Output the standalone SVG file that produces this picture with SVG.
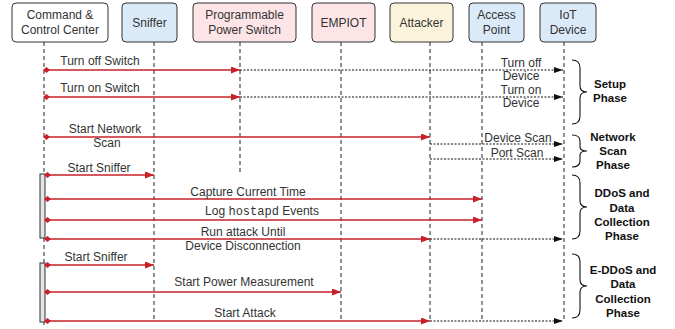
<svg xmlns="http://www.w3.org/2000/svg" width="675" height="329" viewBox="0 0 675 329">
<defs>
<marker id="ra" markerUnits="userSpaceOnUse" markerWidth="10" markerHeight="8" refX="9" refY="3.5" orient="auto"><path d="M0,0 L9,3.5 L0,7 z" fill="#c8202a"/></marker>
<marker id="rd" markerUnits="userSpaceOnUse" markerWidth="8" markerHeight="7" refX="1" refY="3" orient="auto"><path d="M0,3 L3.5,0 L7,3 L3.5,6 z" fill="#c8202a"/></marker>
<marker id="ba" markerUnits="userSpaceOnUse" markerWidth="10" markerHeight="8" refX="9" refY="3" orient="auto"><path d="M0,0 L9,3 L0,6 z" fill="#111"/></marker>
</defs>
<style>
.box{stroke:#333;stroke-width:1}
.t{font-family:"Liberation Sans",Arial,sans-serif;font-size:12px;fill:#333;text-anchor:middle}
.m{font-family:"Liberation Mono","Courier New",monospace}
.ph{font-family:"Liberation Sans",Arial,sans-serif;font-size:11.5px;font-weight:bold;fill:#111;text-anchor:middle}
.life{stroke:#222;stroke-width:1;stroke-dasharray:4,3;fill:none}
.red{stroke:#c8202a;stroke-width:1.5;fill:none;marker-end:url(#ra);marker-start:url(#rd)}
.dot{stroke:#111;stroke-width:1;stroke-dasharray:2,1.5;fill:none;marker-end:url(#ba)}
.br{stroke:#111;stroke-width:1.1;fill:none}
.act{fill:#e4e4e4;stroke:#333;stroke-width:1}
</style>
<g id="lifelines">
<line class="life" x1="44" y1="42" x2="44" y2="325"/>
<line class="life" x1="154" y1="42" x2="154" y2="322"/>
<line class="life" x1="240" y1="42" x2="240" y2="175"/>
<line class="life" x1="341" y1="42" x2="341" y2="320"/>
<line class="life" x1="430" y1="42" x2="430" y2="322"/>
<line class="life" x1="482" y1="42" x2="482" y2="320"/>
<line class="life" x1="564" y1="42" x2="564" y2="322"/>
</g>
<g id="ccc"><rect class="box" x="12" y="3" width="96" height="39" rx="4" fill="#ffffff"/><text class="t" x="60" y="19">Command &amp;</text><text class="t" x="60" y="34">Control Center</text></g>
<g id="sniffer"><rect class="box" x="122" y="3" width="55" height="39" rx="4" fill="#dbeaf8"/><text class="t" x="149.5" y="27">Sniffer</text></g>
<g id="pps"><rect class="box" x="193" y="3" width="103" height="39" rx="4" fill="#fce4e7"/><text class="t" x="244.5" y="19">Programmable</text><text class="t" x="244.5" y="34">Power Switch</text></g>
<g id="empiot"><rect class="box" x="312" y="3" width="63" height="39" rx="4" fill="#fce4e7"/><text class="t" x="343.5" y="27">EMPIOT</text></g>
<g id="attacker"><rect class="box" x="390" y="3" width="63" height="39" rx="4" fill="#fbf3dc"/><text class="t" x="421.5" y="27">Attacker</text></g>
<g id="ap"><rect class="box" x="469" y="3" width="55" height="39" rx="4" fill="#dbeaf8"/><text class="t" x="496.5" y="19">Access</text><text class="t" x="496.5" y="34">Point</text></g>
<g id="iot"><rect class="box" x="540" y="3" width="56" height="39" rx="4" fill="#dbeaf8"/><text class="t" x="568" y="19">IoT</text><text class="t" x="568" y="34">Device</text></g>
<g id="activations">
<rect class="act" x="40" y="174" width="5" height="64"/>
<rect class="act" x="40" y="263" width="5" height="59"/>
</g>
<g id="connectors">
<line class="red" x1="44" y1="70" x2="240" y2="70"/>
<line class="dot" x1="240" y1="70" x2="563" y2="70"/>
<line class="red" x1="44" y1="97" x2="240" y2="97"/>
<line class="dot" x1="240" y1="97" x2="563" y2="97"/>
<line class="red" x1="44" y1="137" x2="430" y2="137"/>
<line class="dot" x1="430" y1="144" x2="563" y2="144"/>
<line class="dot" x1="430" y1="159" x2="563" y2="159"/>
<line class="red" x1="45" y1="175" x2="154" y2="175"/>
<line class="red" x1="45" y1="199" x2="482" y2="199"/>
<line class="red" x1="45" y1="220" x2="482" y2="220"/>
<line class="red" x1="45" y1="239" x2="430" y2="239"/>
<line class="dot" x1="430" y1="239" x2="563" y2="239"/>
<line class="red" x1="45" y1="265" x2="154" y2="265"/>
<line class="red" x1="45" y1="292" x2="341" y2="292"/>
<line class="red" x1="45" y1="321" x2="430" y2="321"/>
<line class="dot" x1="430" y1="321" x2="563" y2="321"/>
</g>
<g id="labels">
<text class="t" x="100" y="65">Turn off Switch</text>
<text class="t" x="100" y="92">Turn on Switch</text>
<text class="t" x="105" y="133">Start Network</text>
<text class="t" x="107" y="147">Scan</text>
<text class="t" x="521" y="67">Turn off</text>
<text class="t" x="521" y="80">Device</text>
<text class="t" x="521" y="94">Turn on</text>
<text class="t" x="521" y="107">Device</text>
<text class="t" x="518" y="142">Device Scan</text>
<text class="t" x="517" y="157">Port Scan</text>
<text class="t" x="99" y="172">Start Sniffer</text>
<text class="t" x="248" y="196">Capture Current Time</text>
<text class="t" x="262" y="215">Log <tspan class="m">hostapd</tspan> Events</text>
<text class="t" x="243" y="236">Run attack Until</text>
<text class="t" x="243" y="250">Device Disconnection</text>
<text class="t" x="96" y="261">Start Sniffer</text>
<text class="t" x="244" y="286">Start Power Measurement</text>
<text class="t" x="245" y="317">Start Attack</text>
</g>
<g id="phases">
<path class="br" d="M572,60 Q580,60 580,68 L580,86 Q580,92 587,92 Q580,92 580,98 L580,116 Q580,124 572,124"/>
<path class="br" d="M572,135 Q580,135 580,141 L580,147 Q580,151 587,151 Q580,151 580,155 L580,161 Q580,167 572,167"/>
<path class="br" d="M572,175 Q580,175 580,183 L580,201 Q580,207 587,207 Q580,207 580,213 L580,231 Q580,239 572,239"/>
<path class="br" d="M572,254 Q580,254 580,262 L580,280 Q580,286 587,286 Q580,286 580,292 L580,310 Q580,318 572,318"/>
<text class="ph" x="610" y="88">Setup</text>
<text class="ph" x="610" y="102">Phase</text>
<text class="ph" x="613" y="141">Network</text>
<text class="ph" x="613" y="155">Scan</text>
<text class="ph" x="613" y="169">Phase</text>
<text class="ph" x="622" y="197">DDoS and</text>
<text class="ph" x="622" y="212">Data</text>
<text class="ph" x="622" y="226">Collection</text>
<text class="ph" x="622" y="240">Phase</text>
<text class="ph" x="623" y="274">E-DDoS and</text>
<text class="ph" x="623" y="288">Data</text>
<text class="ph" x="623" y="303">Collection</text>
<text class="ph" x="623" y="317">Phase</text>
</g>
</svg>
